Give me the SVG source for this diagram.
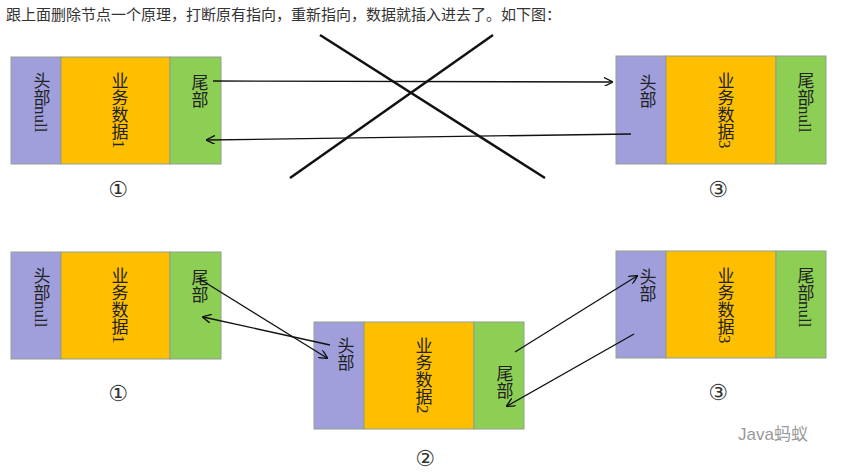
<svg xmlns="http://www.w3.org/2000/svg" width="853" height="474" viewBox="0 0 853 474">
<defs>
<marker id="ah" viewBox="0 0 10 10" refX="9" refY="5" markerWidth="9" markerHeight="9" orient="auto" markerUnits="userSpaceOnUse"><path d="M0,0 L10,5 L0,10" fill="none" stroke="#111" stroke-width="1.5"/></marker>
<style>
.h{fill:#a09fdc;stroke:#8f9f8f;stroke-width:1}
.d{fill:#fdbf00;stroke:#8f9f8f;stroke-width:1}
.t{fill:#8dcf55;stroke:#8f9f8f;stroke-width:1}
.v{font-family:"Liberation Serif","Noto Sans CJK SC",serif;font-size:17px;writing-mode:vertical-rl;fill:#222}
.c{font-family:"DejaVu Sans",sans-serif;font-size:22px;fill:#333;text-anchor:middle}
.ln{stroke:#111;stroke-width:1.3;fill:none;marker-end:url(#ah)}
</style>
</defs>
<rect width="853" height="474" fill="#fff"/>
<text x="6" y="20" font-family="Liberation Sans,'Noto Sans CJK SC',sans-serif" font-size="15" fill="#333">跟上面删除节点一个原理，打断原有指向，重新指向，数据就插入进去了。如下图：</text>
<g id="n1top"><rect class="h" x="11" y="57" width="50" height="107"/><rect class="d" x="61" y="57" width="109" height="107"/><rect class="t" x="170" y="57" width="51" height="107"/>
<text class="v" x="40" y="72">头部null</text><text class="v" x="118" y="72">业务数据1</text><text class="v" x="198" y="74">尾部</text><text class="c" x="118" y="197">①</text></g>
<g id="n3top"><rect class="h" x="616" y="56" width="50" height="108"/><rect class="d" x="666" y="56" width="110" height="108"/><rect class="t" x="776" y="56" width="50" height="108"/>
<text class="v" x="646" y="74">头部</text><text class="v" x="724" y="72">业务数据3</text><text class="v" x="804" y="72">尾部null</text><text class="c" x="718" y="197">③</text></g>
<g id="n1bot"><rect class="h" x="11" y="252" width="50" height="107"/><rect class="d" x="61" y="252" width="109" height="107"/><rect class="t" x="170" y="252" width="51" height="107"/>
<text class="v" x="40" y="267">头部null</text><text class="v" x="118" y="267">业务数据1</text><text class="v" x="198" y="269">尾部</text><text class="c" x="118" y="401">①</text></g>
<g id="n2"><rect class="h" x="314" y="322" width="50" height="107"/><rect class="d" x="364" y="322" width="110" height="107"/><rect class="t" x="474" y="322" width="50" height="107"/>
<text class="v" x="344" y="337">头部</text><text class="v" x="422" y="337">业务数据2</text><text class="v" x="503" y="365">尾部</text><text class="c" x="425" y="466">②</text></g>
<g id="n3bot"><rect class="h" x="616" y="251" width="50" height="107"/><rect class="d" x="666" y="251" width="110" height="107"/><rect class="t" x="776" y="251" width="50" height="107"/>
<text class="v" x="646" y="268">头部</text><text class="v" x="724" y="267">业务数据3</text><text class="v" x="804" y="267">尾部null</text><text class="c" x="718" y="400">③</text></g>
<g id="connectors">
<line x1="320" y1="35" x2="545" y2="178" stroke="#111" stroke-width="2.5"/>
<line x1="290" y1="178" x2="493" y2="35" stroke="#111" stroke-width="2.5"/>
<line class="ln" x1="213" y1="81" x2="612" y2="82"/>
<line class="ln" x1="631" y1="134" x2="207" y2="140"/>
<line class="ln" x1="198" y1="278" x2="327" y2="358"/>
<line class="ln" x1="330" y1="345" x2="203" y2="317"/>
<line class="ln" x1="515" y1="352" x2="637" y2="276"/>
<line class="ln" x1="634" y1="334" x2="507" y2="406"/>
</g>
<text x="738" y="440" font-family="Liberation Sans,'Noto Sans CJK SC',sans-serif" font-size="17" fill="#999">Java蚂蚁</text>
</svg>
